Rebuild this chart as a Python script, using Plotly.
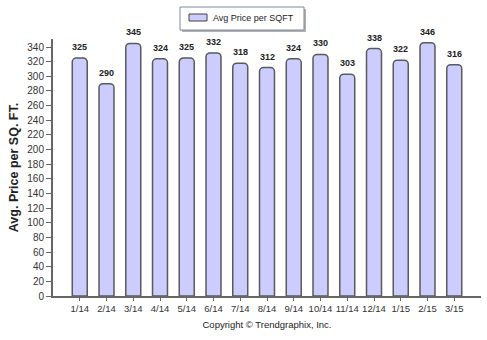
import plotly.graph_objects as go

months = ["1/14", "2/14", "3/14", "4/14", "5/14", "6/14", "7/14", "8/14",
          "9/14", "10/14", "11/14", "12/14", "1/15", "2/15", "3/15"]
price = [325, 290, 345, 324, 325, 332, 318, 312, 324, 330, 303, 338, 322, 346, 316]
y_ticks = list(range(0, 341, 20))
series_name = "Avg Price per SQFT"

x_pos = list(range(len(months)))

# plot area geometry in pixels
L, R, T, B, W, H = 53, 6, 39, 44, 487, 340
PW = W - L - R
PH = H - T - B


def px(x):
    return (x - L) / PW


def py(y):
    return (H - B - y) / PH


fig = go.Figure()
fig.add_trace(go.Bar(
    x=x_pos, y=price, name=series_name,
    width=0.56, showlegend=False,
    marker=dict(color="#ccccff", line=dict(color="#5a5a5a", width=1.5), cornerradius=4),
))

annotations = [
    dict(x=xi, y=v, text=str(v), showarrow=False, yanchor="bottom", yshift=4,
         font=dict(family="Liberation Sans", size=9, color="#222222", weight="bold"))
    for xi, v in zip(x_pos, price)
]
annotations.append(dict(
    xref="paper", yref="paper", x=px(211), y=py(18), xanchor="left", yanchor="middle",
    text=series_name, showarrow=False, font=dict(size=9, color="#222222"),
))

shapes = [
    # legend shadow
    dict(type="rect", xref="paper", yref="paper", x0=px(182), x1=px(306), y0=py(32), y1=py(9),
         fillcolor="#b0b0b0", line=dict(width=0), layer="above"),
    # legend box
    dict(type="rect", xref="paper", yref="paper", x0=px(180), x1=px(304), y0=py(30), y1=py(7),
         fillcolor="white", line=dict(color="#7a8a9a", width=1), layer="above"),
    # legend symbol
    dict(type="rect", xref="paper", yref="paper", x0=px(189), x1=px(207), y0=py(21), y1=py(14),
         fillcolor="#ccccff", line=dict(color="#404040", width=1), layer="above"),
]

fig.update_layout(
    width=W, height=H,
    margin=dict(l=L, r=R, t=T, b=B),
    paper_bgcolor="white", plot_bgcolor="white",
    font=dict(family="Liberation Sans", size=10, color="#333333"),
    showlegend=False,
    annotations=annotations,
    shapes=shapes,
    xaxis=dict(
        range=[-1, 15], tickmode="array", tickvals=x_pos, ticktext=months,
        showline=True, linecolor="#666666", linewidth=2,
        ticks="outside", ticklen=3, tickcolor="#666666",
        showgrid=False, zeroline=False, tickfont=dict(size=9.5, color="#333333"),
        title=dict(text="Copyright © Trendgraphix, Inc.", font=dict(size=9.5, color="#222222"), standoff=8),
    ),
    yaxis=dict(
        range=[0, 351], tickmode="array", tickvals=y_ticks,
        showline=True, linecolor="#666666", linewidth=2,
        ticks="outside", ticklen=5, tickcolor="#666666",
        showgrid=False, zeroline=False, tickfont=dict(size=10, color="#333333"),
        title=dict(text="Avg. Price per SQ. FT.", font=dict(size=12.5, color="#222222", weight="bold"), standoff=6),
    ),
)

fig.write_html("out.html")
